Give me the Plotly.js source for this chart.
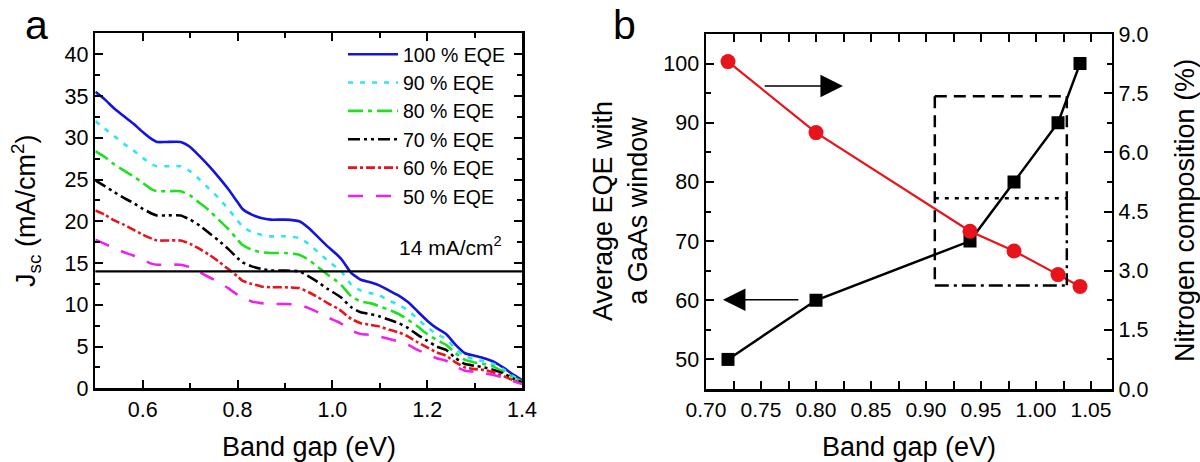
<!DOCTYPE html>
<html><head><meta charset="utf-8">
<script src="https://cdn.plot.ly/plotly-3.0.1.min.js"></script>
<style>html,body{margin:0;padding:0;background:#fff}#chart{width:1200px;height:462px}</style>
</head><body><div id="chart"></div>
<script>
// ---------- Panel a data ----------
const bandGap = [0.50,0.52,0.54,0.56,0.58,0.60,0.62,0.63,0.65,0.68,0.70,0.72,0.74,0.76,0.78,0.80,0.81,0.83,0.85,0.87,0.90,0.93,0.95,0.97,0.99,1.01,1.02,1.04,1.06,1.08,1.10,1.12,1.14,1.16,1.18,1.20,1.22,1.24,1.26,1.28,1.30,1.32,1.34,1.36,1.38,1.40];
const jsc100 = [35.5,34.6,33.5,32.6,31.7,30.7,29.8,29.5,29.5,29.5,28.9,27.8,26.6,25.3,23.9,22.3,21.5,20.8,20.4,20.2,20.2,20.0,19.2,18.1,17.0,16.0,15.4,13.8,13.0,12.7,12.3,11.7,11.1,10.3,9.2,8.1,7.2,6.5,5.2,4.2,3.9,3.6,3.2,2.5,1.7,1.0];
const jsc90 = [32.0,31.1,30.2,29.3,28.5,27.6,26.8,26.6,26.6,26.6,26.0,25.0,23.9,22.8,21.5,20.1,19.4,18.7,18.4,18.2,18.2,18.0,17.3,16.3,15.3,14.4,13.9,12.4,11.7,11.4,11.1,10.5,10.0,9.3,8.3,7.3,6.5,5.9,4.7,3.8,3.5,3.2,2.9,2.3,1.5,0.9];
const jsc80 = [28.4,27.7,26.8,26.1,25.4,24.6,23.8,23.6,23.6,23.6,23.1,22.2,21.3,20.2,19.1,17.8,17.2,16.6,16.3,16.2,16.2,16.0,15.4,14.5,13.6,12.8,12.3,11.0,10.4,10.2,9.8,9.4,8.9,8.2,7.4,6.5,5.8,5.2,4.2,3.4,3.1,2.9,2.6,2.0,1.4,0.8];
const jsc70 = [24.9,24.2,23.5,22.8,22.2,21.5,20.9,20.7,20.7,20.7,20.2,19.5,18.6,17.7,16.7,15.6,15.1,14.6,14.3,14.1,14.1,14.0,13.4,12.7,11.9,11.2,10.8,9.7,9.1,8.9,8.6,8.2,7.8,7.2,6.4,5.7,5.0,4.6,3.6,2.9,2.7,2.5,2.2,1.8,1.2,0.7];
const jsc60 = [21.3,20.8,20.1,19.6,19.0,18.4,17.9,17.7,17.7,17.7,17.3,16.7,16.0,15.2,14.3,13.4,12.9,12.5,12.2,12.1,12.1,12.0,11.5,10.9,10.2,9.6,9.2,8.3,7.8,7.6,7.4,7.0,6.7,6.2,5.5,4.9,4.3,3.9,3.1,2.5,2.3,2.2,1.9,1.5,1.0,0.6];
const jsc50 = [17.8,17.3,16.8,16.3,15.9,15.4,14.9,14.8,14.8,14.8,14.5,13.9,13.3,12.7,12.0,11.2,10.8,10.4,10.2,10.1,10.1,10.0,9.6,9.1,8.5,8.0,7.7,6.9,6.5,6.4,6.2,5.9,5.6,5.2,4.6,4.1,3.6,3.3,2.6,2.1,2.0,1.8,1.6,1.3,0.9,0.5];
const seriesNames = ['100 % EQE','90 % EQE','80 % EQE','70 % EQE','60 % EQE','50 % EQE'];
const jscTarget = 14;
const xTicksA = [0.6,0.8,1.0,1.2,1.4];
const yTicksA = [0,5,10,15,20,25,30,35,40];

// ---------- Panel b data ----------
const bandGapB = [0.72,0.80,0.94,0.98,1.02,1.04];
const avgEQE = [50,60,70,80,90,100];
const nitrogen = [8.3,6.5,4.0,3.5,2.9,2.6];
const yTicksB = [50,60,70,80,90,100];
const yTicksN = [0,1.5,3,4.5,6,7.5,9];

// window boxes (band gap, EQE)
const boxLeft = 0.908, boxRight = 1.028, boxTop = 94.5, boxMid = 77.25, boxBottom = 62.5;

const FONT = 'Liberation Sans, Arial, Helvetica, sans-serif';
const colors = ['#1414dc','#2ee6f0','#1ee01e','#000000','#e8141c','#ee22ee'];
const dashes = ['solid','5px,7px','15px,5px,4px,5px','12px,4px,3px,4px,3px,4px','9px,3px,3px,3px','15px,13px'];
const seriesA = [jsc100,jsc90,jsc80,jsc70,jsc60,jsc50];

const traces = seriesA.map((ys,i)=>({
  x: bandGap, y: ys, xaxis:'x', yaxis:'y', type:'scatter', mode:'lines', name: seriesNames[i],
  line:{color:colors[i], width:2.6, dash:dashes[i], shape:'spline', smoothing:0.5},
  hoverinfo:'skip'
}));
traces.push({
  x: bandGapB, y: avgEQE, xaxis:'x2', yaxis:'y2', type:'scatter', mode:'lines+markers', showlegend:false,
  line:{color:'#000', width:2.5}, marker:{symbol:'square', size:13, color:'#000'}
});
traces.push({
  x: bandGapB, y: nitrogen, xaxis:'x2', yaxis:'y3', type:'scatter', mode:'lines+markers', showlegend:false,
  line:{color:'#e8141c', width:2.2}, marker:{symbol:'circle', size:15, color:'#e8141c'}
});

const W = 1200, H = 462;
const px = v => v / W, py = v => (H - v) / H;

const axisCommon = {
  showline:true, linecolor:'#000', linewidth:2.5, ticks:'inside', ticklen:8, tickwidth:2, tickcolor:'#000',
  showgrid:false, zeroline:false, fixedrange:true, tickfont:{family:FONT, size:21.5, color:'#000'}
};

const layout = {
  width: W, height: H, margin:{l:0,r:0,t:0,b:0},
  paper_bgcolor:'#fff', plot_bgcolor:'rgba(0,0,0,0)',
  font:{family:FONT, size:21, color:'#000'},
  showlegend:true,
  legend:{x:px(343), y:py(35), xanchor:'left', yanchor:'top', bgcolor:'rgba(0,0,0,0)', borderwidth:0,
          font:{family:FONT, size:19.5, color:'#000'}, itemwidth:50, tracegroupgap:0},
  xaxis: Object.assign({}, axisCommon, {domain:[px(95.3), px(522)], anchor:'y', range:[0.5,1.4],
          tickvals:xTicksA, tickformat:'.1f', mirror:'allticks',
          minor:{dtick:0.1, tick0:0.5, ticks:'inside', ticklen:5, tickwidth:2, tickcolor:'#000', showgrid:false}}),
  yaxis: Object.assign({}, axisCommon, {domain:[py(388.3), py(33)], anchor:'x', range:[0,42.55],
          tickvals:yTicksA, mirror:'allticks',
          minor:{dtick:2.5, tick0:0, ticks:'inside', ticklen:5, tickwidth:2, tickcolor:'#000', showgrid:false}}),
  xaxis2: Object.assign({}, axisCommon, {domain:[px(706), px(1111.7)], anchor:'y2', range:[0.7,1.0688],
          tick0:0.7, dtick:0.05, tickformat:'.2f', mirror:'allticks', tickfont:{family:FONT, size:21, color:'#000'},
          minor:{dtick:0.025, tick0:0.7, ticks:'inside', ticklen:5, tickwidth:2, tickcolor:'#000', showgrid:false}}),
  yaxis2: Object.assign({}, axisCommon, {domain:[py(389), py(34)], anchor:'x2', range:[45,105],
          tickvals:yTicksB, side:'left',
          minor:{dtick:5, tick0:45, ticks:'inside', ticklen:5, tickwidth:2, tickcolor:'#000', showgrid:false}}),
  yaxis3: Object.assign({}, axisCommon, {overlaying:'y2', anchor:'x2', side:'right', range:[0,9],
          tickvals:yTicksN, tickformat:'.1f',
          minor:{dtick:0.75, tick0:0, ticks:'inside', ticklen:5, tickwidth:2, tickcolor:'#000', showgrid:false}}),
  shapes:[
    {type:'line', xref:'x domain', x0:0, x1:1, yref:'y', y0:jscTarget, y1:jscTarget, line:{color:'#000', width:2.2}},
    {type:'line', xref:'x2', yref:'y2', x0:boxLeft, x1:boxRight, y0:boxTop, y1:boxTop, line:{color:'#000', width:2.5, dash:'12px,7px'}},
    {type:'line', xref:'x2', yref:'y2', x0:boxLeft, x1:boxLeft, y0:boxTop, y1:boxBottom, line:{color:'#000', width:2.5, dash:'12px,7px'}},
    {type:'line', xref:'x2', yref:'y2', x0:boxRight, x1:boxRight, y0:boxTop, y1:boxMid, line:{color:'#000', width:2.5, dash:'12px,7px'}},
    {type:'line', xref:'x2', yref:'y2', x0:boxRight, x1:boxRight, y0:boxMid, y1:boxBottom, line:{color:'#000', width:2.5, dash:'12px,5px,3px,5px'}},
    {type:'line', xref:'x2', yref:'y2', x0:boxLeft, x1:boxRight, y0:boxMid, y1:boxMid, line:{color:'#000', width:2.5, dash:'4px,6px'}},
    {type:'line', xref:'x2', yref:'y2', x0:boxLeft, x1:boxRight, y0:boxBottom, y1:boxBottom, line:{color:'#000', width:2.5, dash:'14px,5px,3px,5px'}}
  ],
  annotations:[
    {xref:'paper', yref:'paper', x:px(36), y:py(25), text:'a', showarrow:false, font:{family:FONT, size:41, color:'#000'}, xanchor:'center', yanchor:'middle'},
    {xref:'paper', yref:'paper', x:px(624), y:py(25), text:'b', showarrow:false, font:{family:FONT, size:41, color:'#000'}, xanchor:'center', yanchor:'middle'},
    {xref:'x', yref:'y', x:1.25, y:17, text:'14 mA/cm<sup>2</sup>', showarrow:false, font:{family:FONT, size:21, color:'#000'}, xanchor:'center', yanchor:'middle'},
    {xref:'paper', yref:'paper', x:px(308.6), y:py(446.5), text:'Band gap (eV)', showarrow:false, font:{family:FONT, size:27, color:'#000'}, xanchor:'center', yanchor:'middle'},
    {xref:'paper', yref:'paper', x:px(908.9), y:py(446.5), text:'Band gap (eV)', showarrow:false, font:{family:FONT, size:27, color:'#000'}, xanchor:'center', yanchor:'middle'},
    {xref:'paper', yref:'paper', x:px(26), y:py(211), text:'J<sub>sc</sub> (mA/cm<sup>2</sup>)', textangle:-90, showarrow:false, font:{family:FONT, size:27, color:'#000'}, xanchor:'center', yanchor:'middle'},
    {xref:'paper', yref:'paper', x:px(620), y:py(211), text:'Average EQE with<br>a GaAs window', textangle:-90, showarrow:false, font:{family:FONT, size:27, color:'#000'}, xanchor:'center', yanchor:'middle'},
    {xref:'paper', yref:'paper', x:px(1185), y:py(211), text:'Nitrogen composition (%)', textangle:-90, showarrow:false, font:{family:FONT, size:27, color:'#000'}, xanchor:'center', yanchor:'middle'},
    {xref:'x2', yref:'y2', x:0.8245, y:96.2, ax:0.752, ay:96.2, axref:'x2', ayref:'y2', text:'', showarrow:true, arrowhead:2, arrowsize:3, arrowwidth:1.5, arrowcolor:'#000'},
    {xref:'x2', yref:'y2', x:0.7154, y:60.1, ax:0.7853, ay:60.1, axref:'x2', ayref:'y2', text:'', showarrow:true, arrowhead:2, arrowsize:3, arrowwidth:1.5, arrowcolor:'#000'}
  ]
};

Plotly.newPlot('chart', traces, layout, {displayModeBar:false, staticPlot:true});
</script>
</body></html>
